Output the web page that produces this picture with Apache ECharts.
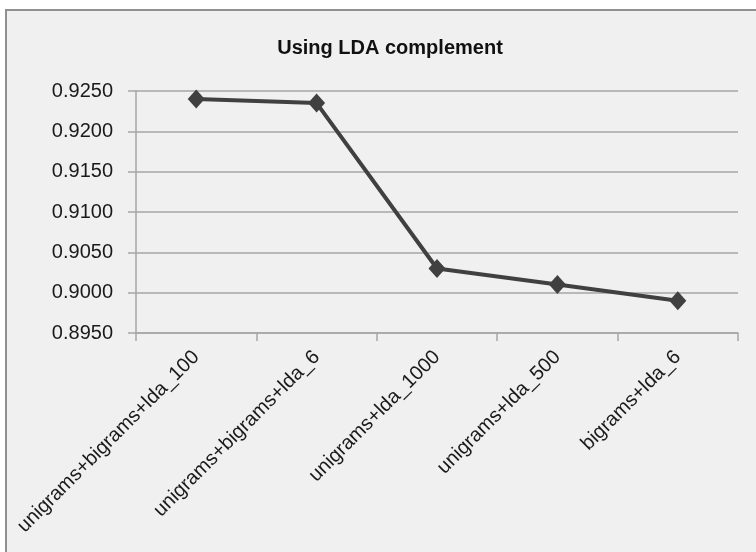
<!DOCTYPE html>
<html>
<head>
<meta charset="utf-8">
<script src="https://cdn.jsdelivr.net/npm/echarts@6/dist/echarts.min.js"></script>
<style>
	html, body { margin: 0; padding: 0; background: #ffffff; }
	#chart { width: 756px; height: 552px; }
</style>
</head>
<body>
<div id="chart"></div>
<script>
	// 数据
	const categories = [
		"unigrams+bigrams+lda_100",
		"unigrams+bigrams+lda_6",
		"unigrams+lda_1000",
		"unigrams+lda_500",
		"bigrams+lda_6"
	];
	const scores = [0.9240, 0.9235, 0.9030, 0.9010, 0.8990];
	const yMin = 0.8950;
	const yMax = 0.9250;
	const yStep = 0.0050;

	const font = "'Liberation Sans Narrow', 'Arial Narrow', 'Liberation Sans', Arial, sans-serif";

	const myChart = echarts.init(document.getElementById("chart"));

	const option = {
		backgroundColor: "#ffffff",
		animation: false,
		graphic: [
			{
				// 外框（只露出上边和左边）
				type: "rect",
				z: -10,
				shape: { x: 6, y: 10, width: 800, height: 600 },
				style: { fill: "#f0f0f0", stroke: "#909090", lineWidth: 2 }
			}
		],
		title: {
			text: "Using LDA complement",
			left: 385,
			textAlign: "center",
			top: 33,
			textStyle: {
				fontFamily: font,
				fontWeight: "bold",
				fontSize: 20,
				color: "#111111"
			}
		},
		grid: {
			left: 136,
			right: 18,
			top: 91,
			bottom: 219,
			containLabel: false,
			outerBoundsMode: "none"
		},
		xAxis: {
			type: "category",
			data: categories,
			boundaryGap: true,
			axisLine: { lineStyle: { color: "#a6a6a6", width: 1.5 } },
			axisTick: { show: true, length: 8, lineStyle: { color: "#a6a6a6", width: 1.5 } },
			axisLabel: {
				rotate: 45,
				margin: 21,
				interval: 0,
				fontFamily: font,
				fontSize: 20,
				color: "#1a1a1a"
			}
		},
		yAxis: {
			type: "value",
			min: yMin,
			max: yMax,
			interval: yStep,
			axisLine: { show: true, lineStyle: { color: "#a6a6a6", width: 1.5 } },
			axisTick: { show: true, length: 8, lineStyle: { color: "#a6a6a6", width: 1.5 } },
			splitLine: { lineStyle: { color: "#a6a6a6", width: 1.5 } },
			axisLabel: {
				margin: 23,
				fontFamily: font,
				fontSize: 20,
				color: "#1a1a1a",
				formatter: (v) => v.toFixed(4)
			}
		},
		series: [
			{
				type: "line",
				data: scores,
				symbol: "diamond",
				symbolSize: [17, 19],
				lineStyle: { color: "#404040", width: 4 },
				itemStyle: { color: "#404040" }
			}
		]
	};

	myChart.setOption(option);
</script>
</body>
</html>
